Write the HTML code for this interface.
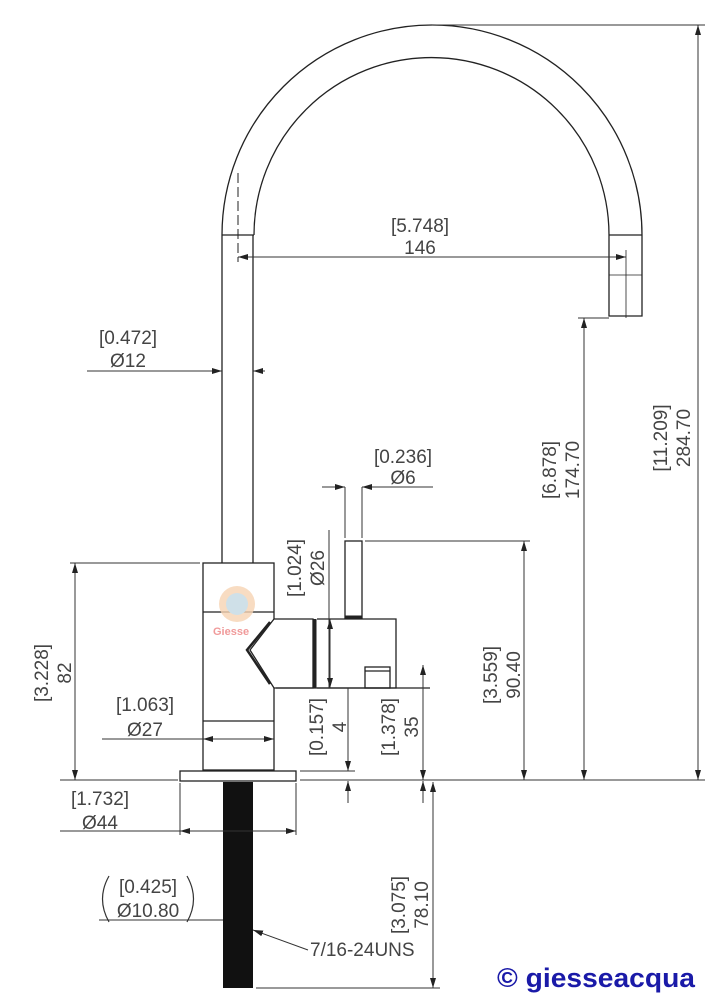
<!DOCTYPE html>
<html><head><meta charset="utf-8"><style>
html,body{margin:0;padding:0;background:#fff;}
svg{display:block;}
text{font-family:"Liberation Sans","DejaVu Sans",sans-serif;fill:#444;font-size:19px;}
</style></head><body>
<svg width="721" height="1000" viewBox="0 0 721 1000" xmlns="http://www.w3.org/2000/svg">
<defs>
<marker id="a" viewBox="0 0 10 6" refX="10" refY="3" markerWidth="10" markerHeight="6" orient="auto-start-reverse" markerUnits="userSpaceOnUse"><path d="M0,0 L10,3 L0,6z" fill="#222"/></marker>
</defs>
<g fill="none" stroke="#222" stroke-width="1.3">
<path d="M222,235 A210,210 0 0 1 642,235"/>
<path d="M254,235 A177.5,177.5 0 0 1 609,235"/>
<line x1="222" y1="235" x2="254" y2="235"/>
<line x1="609" y1="235" x2="642" y2="235"/>
<line x1="222" y1="235" x2="222" y2="563"/>
<line x1="253" y1="235" x2="253" y2="563"/>
<line x1="238" y1="173" x2="238" y2="262" stroke-dasharray="10,4" stroke-width="1"/>
<path d="M609,235 V316 H642 V235"/>
<line x1="609" y1="275" x2="642" y2="275" stroke-width="0.8"/>
<line x1="626" y1="250" x2="626" y2="318" stroke-width="0.8"/>
<rect x="203" y="563" width="71" height="207"/>
<line x1="203" y1="612" x2="274" y2="612"/>
<line x1="203" y1="721" x2="274" y2="721"/>
<rect x="180" y="771" width="116" height="10"/>
<path d="M274,619 H313 V688 H274 L250,650 Z" fill="#fff"/>
<path d="M270,622 L247,650 L270,684" stroke-width="2.5"/>
<line x1="315" y1="619" x2="315" y2="688" stroke-width="3"/>
<path d="M317,619 H396 V688 H317"/>
<rect x="365" y="667" width="25" height="21"/>
<line x1="365" y1="671" x2="390" y2="671"/>
<rect x="345" y="541" width="17" height="77"/>
<line x1="345" y1="617" x2="362" y2="617" stroke-width="3"/>
<line x1="276" y1="688" x2="430" y2="688"/>
</g>
<rect x="223" y="782" width="30" height="206" fill="#111"/>
<g fill="none" stroke="#333" stroke-width="1">
<line x1="300" y1="780" x2="705" y2="780"/>
<line x1="60" y1="780" x2="178" y2="780"/>
<line x1="432" y1="25" x2="705" y2="25"/>
<line x1="698" y1="25" x2="698" y2="780" marker-start="url(#a)" marker-end="url(#a)"/>
<line x1="578" y1="318" x2="609" y2="318"/>
<line x1="584" y1="318" x2="584" y2="780" marker-start="url(#a)" marker-end="url(#a)"/>
<line x1="365" y1="541" x2="530" y2="541"/>
<line x1="524" y1="541" x2="524" y2="780" marker-start="url(#a)" marker-end="url(#a)"/>
<line x1="238" y1="257" x2="626" y2="257" marker-start="url(#a)" marker-end="url(#a)"/>
<line x1="87" y1="371" x2="222" y2="371" marker-end="url(#a)"/>
<line x1="265" y1="371" x2="253" y2="371" marker-end="url(#a)"/>
<line x1="322" y1="487" x2="345" y2="487" marker-end="url(#a)"/>
<line x1="433" y1="487" x2="362" y2="487" marker-end="url(#a)"/>
<line x1="345" y1="487" x2="345" y2="538"/>
<line x1="362" y1="487" x2="362" y2="538"/>
<line x1="329" y1="530" x2="329" y2="688"/>
<line x1="330" y1="619" x2="330" y2="688" marker-start="url(#a)" marker-end="url(#a)"/>
<line x1="70" y1="563" x2="200" y2="563"/>
<line x1="75" y1="563" x2="75" y2="780" marker-start="url(#a)" marker-end="url(#a)"/>
<line x1="102" y1="739" x2="274" y2="739"/>
<line x1="203" y1="739" x2="274" y2="739" marker-start="url(#a)" marker-end="url(#a)"/>
<line x1="300" y1="771" x2="355" y2="771"/>
<line x1="348" y1="688" x2="348" y2="771" marker-end="url(#a)"/>
<line x1="348" y1="803" x2="348" y2="781" marker-end="url(#a)"/>
<line x1="423" y1="665" x2="423" y2="780" marker-start="url(#a)" marker-end="url(#a)"/>
<line x1="423" y1="803" x2="423" y2="781" marker-end="url(#a)"/>
<line x1="180" y1="783" x2="180" y2="835"/>
<line x1="296" y1="783" x2="296" y2="835"/>
<line x1="60" y1="831" x2="296" y2="831"/>
<line x1="180" y1="831" x2="296" y2="831" marker-start="url(#a)" marker-end="url(#a)"/>
<line x1="99" y1="920" x2="223" y2="920"/>
<line x1="256" y1="988" x2="440" y2="988"/>
<line x1="433" y1="782" x2="433" y2="988" marker-start="url(#a)" marker-end="url(#a)"/>
<line x1="308" y1="950" x2="253" y2="930" marker-end="url(#a)"/>
<path d="M109,876 Q96,899 109,922" stroke-width="1.2"/>
<path d="M187,876 Q200,899 187,922" stroke-width="1.2"/>
</g>
<text x="420" y="232" text-anchor="middle">[5.748]</text>
<text x="420" y="254" text-anchor="middle">146</text>
<text x="128" y="344" text-anchor="middle">[0.472]</text>
<text x="128" y="367" text-anchor="middle">Ø12</text>
<text x="403" y="463" text-anchor="middle">[0.236]</text>
<text x="403" y="484" text-anchor="middle">Ø6</text>
<text x="145" y="711" text-anchor="middle">[1.063]</text>
<text x="145" y="736" text-anchor="middle">Ø27</text>
<text x="100" y="805" text-anchor="middle">[1.732]</text>
<text x="100" y="829" text-anchor="middle">Ø44</text>
<text x="148" y="893" text-anchor="middle">[0.425]</text>
<text x="148" y="917" text-anchor="middle">Ø10.80</text>
<text x="310" y="956">7/16-24UNS</text>
<g text-anchor="middle">
<text transform="translate(301,568) rotate(-90)">[1.024]</text>
<text transform="translate(324,568) rotate(-90)">Ø26</text>
<text transform="translate(48,673) rotate(-90)">[3.228]</text>
<text transform="translate(71,673) rotate(-90)">82</text>
<text transform="translate(323,727) rotate(-90)">[0.157]</text>
<text transform="translate(346,727) rotate(-90)">4</text>
<text transform="translate(395,727) rotate(-90)">[1.378]</text>
<text transform="translate(418,727) rotate(-90)">35</text>
<text transform="translate(497,675) rotate(-90)">[3.559]</text>
<text transform="translate(520,675) rotate(-90)">90.40</text>
<text transform="translate(556,470) rotate(-90)">[6.878]</text>
<text transform="translate(579,470) rotate(-90)">174.70</text>
<text transform="translate(667,438) rotate(-90)">[11.209]</text>
<text transform="translate(690,438) rotate(-90)">284.70</text>
<text transform="translate(405,905) rotate(-90)">[3.075]</text>
<text transform="translate(428,905) rotate(-90)">78.10</text>
</g>
<circle cx="237" cy="604" r="18" fill="#f6d3b3" opacity="0.8"/>
<circle cx="237" cy="604" r="11" fill="#cfe0e8"/>
<text x="213" y="635" style="font-size:11px;font-weight:bold;fill:#f09a9a">Giesse</text>
<text x="497" y="987" textLength="198" lengthAdjust="spacingAndGlyphs" style="font-size:27px;font-weight:bold;fill:#1a1aa8">© giesseacqua</text>
</svg>
</body></html>
